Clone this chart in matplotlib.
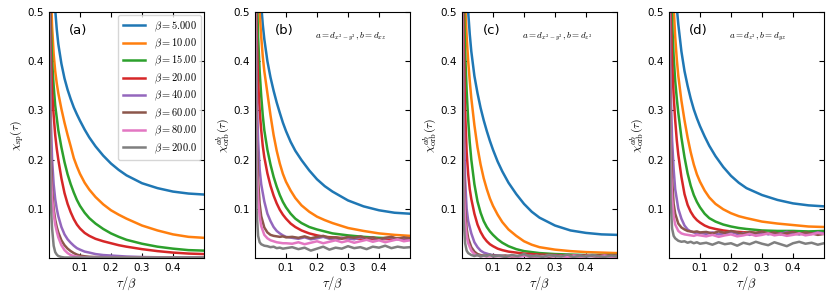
import numpy as np
from matplotlib import pyplot as plt

plt.rcParams['mathtext.fontset'] = 'cm'

# tau / beta grids (smooth curves use X, noisy QMC curves use XN)
X = [0, .005, .01, .015, .02, .025, .03, .04, .05, .06, .07, .08, .09, .1,
     .115, .13, .15, .175, .2, .225, .25, .3, .35, .4, .45, .5]
XN = [0, .005, .01, .015, .02, .03, .04, .05, .06, .07, .08, .09, .1,
      .12, .14, .16, .18, .2, .22, .24, .26, .28, .3, .32, .34, .36, .38, .4, .42, .44, .46, .48, .5]

BETA_LABELS = ['5.000', '10.00', '15.00', '20.00', '40.00', '60.00', '80.00', '200.0']
COLORS = ['tab:blue', 'tab:orange', 'tab:green', 'tab:red', 'tab:purple', 'tab:brown', 'tab:pink', 'tab:gray']

# (a) chi_sp
CHI_SP = [
    [0.95, 0.76, 0.64, 0.56, 0.505, 0.465, 0.435, 0.395, 0.365, 0.342, 0.323, 0.306, 0.292, 0.279,
     0.261, 0.245, 0.227, 0.208, 0.192, 0.179, 0.168, 0.152, 0.142, 0.135, 0.131, 0.129],
    [0.85, 0.56, 0.47, 0.415, 0.38, 0.355, 0.335, 0.303, 0.275, 0.25, 0.227, 0.203, 0.186, 0.171,
     0.153, 0.139, 0.124, 0.109, 0.097, 0.088, 0.08, 0.066, 0.056, 0.048, 0.043, 0.041],
    [0.8, 0.49, 0.40, 0.35, 0.31, 0.285, 0.26, 0.225, 0.195, 0.17, 0.15, 0.133, 0.118, 0.106,
     0.092, 0.081, 0.07, 0.059, 0.05, 0.043, 0.037, 0.029, 0.023, 0.019, 0.016, 0.015],
    [0.75, 0.43, 0.34, 0.29, 0.25, 0.222, 0.2, 0.162, 0.132, 0.11, 0.093, 0.079, 0.068, 0.06,
     0.051, 0.045, 0.039, 0.034, 0.03, 0.026, 0.023, 0.018, 0.014, 0.011, 0.009, 0.008],
    [0.7, 0.3, 0.2, 0.15, 0.12, 0.1, 0.085, 0.063, 0.048, 0.038, 0.031, 0.025, 0.02, 0.017,
     0.013, 0.011, 0.008, 0.006, 0.005, 0.004, 0.003, 0.002, 0.0015, 0.0012, 0.001, 0.001],
    [0.65, 0.22, 0.14, 0.1, 0.078, 0.063, 0.052, 0.036, 0.026, 0.019, 0.014, 0.01, 0.007, 0.005,
     0.0035, 0.0025, 0.002, 0.0015, 0.001, 0.001, 0.001, 0.001, 0.001, 0.001, 0.001, 0.001],
    [0.6, 0.18, 0.12, 0.09, 0.068, 0.054, 0.042, 0.026, 0.016, 0.01, 0.006, 0.004, 0.003, 0.002,
     0.0015, 0.001, 0.001, 0.001, 0.001, 0.001, 0.001, 0.001, 0.001, 0.001, 0.001, 0.001],
    [0.6, 0.12, 0.06, 0.025, 0.012, 0.007, 0.004, 0.002, 0.001, 0.001, 0.001, 0.001, 0.001, 0.001,
     0.001, 0.001, 0.001, 0.001, 0.001, 0.001, 0.001, 0.001, 0.001, 0.001, 0.001, 0.001],
]

# (b) a = d_{x2-y2}, b = d_{xz}
ORB_B = [
    [0.9, 0.76, 0.65, 0.57, 0.515, 0.475, 0.445, 0.4, 0.367, 0.34, 0.316, 0.295, 0.275, 0.258,
     0.236, 0.218, 0.199, 0.178, 0.16, 0.146, 0.135, 0.117, 0.105, 0.097, 0.092, 0.09],
    [0.85, 0.68, 0.57, 0.5, 0.45, 0.41, 0.38, 0.335, 0.29, 0.25, 0.218, 0.192, 0.171, 0.155,
     0.137, 0.122, 0.107, 0.094, 0.084, 0.077, 0.071, 0.061, 0.055, 0.05, 0.047, 0.045],
    [0.8, 0.56, 0.45, 0.38, 0.33, 0.29, 0.26, 0.22, 0.19, 0.165, 0.145, 0.128, 0.114, 0.103,
     0.09, 0.08, 0.071, 0.063, 0.058, 0.054, 0.05, 0.046, 0.043, 0.041, 0.04, 0.04],
    [0.75, 0.46, 0.36, 0.3, 0.26, 0.228, 0.205, 0.172, 0.147, 0.127, 0.111, 0.098, 0.088, 0.08,
     0.07, 0.063, 0.056, 0.05, 0.046, 0.043, 0.042, 0.04, 0.039, 0.038, 0.039, 0.038],
    [0.7, 0.35, 0.24, 0.18, 0.15, 0.115, 0.09, 0.075, 0.063, 0.055, 0.05, 0.046, 0.043,
     0.041, 0.039, 0.042, 0.038, 0.04, 0.043, 0.039, 0.037, 0.041, 0.04, 0.038, 0.042, 0.039, 0.041, 0.037, 0.04, 0.042, 0.038, 0.04, 0.039],
    [0.65, 0.25, 0.16, 0.11, 0.085, 0.062, 0.052, 0.047, 0.045, 0.044, 0.043, 0.044, 0.042,
     0.043, 0.041, 0.044, 0.04, 0.043, 0.045, 0.041, 0.042, 0.039, 0.043, 0.041, 0.044, 0.04, 0.042, 0.038, 0.041, 0.043, 0.039, 0.042, 0.04],
    [0.6, 0.2, 0.12, 0.085, 0.065, 0.047, 0.04, 0.036, 0.034, 0.032, 0.031, 0.03, 0.03,
     0.029, 0.032, 0.028, 0.031, 0.034, 0.03, 0.033, 0.036, 0.032, 0.035, 0.031, 0.034, 0.037, 0.033, 0.036, 0.032, 0.035, 0.038, 0.034, 0.036],
    [0.5, 0.1, 0.045, 0.032, 0.028, 0.025, 0.024, 0.022, 0.023, 0.02, 0.021, 0.019, 0.02,
     0.022, 0.018, 0.021, 0.015, 0.019, 0.023, 0.017, 0.021, 0.019, 0.024, 0.02, 0.022, 0.018, 0.023, 0.021, 0.025, 0.02, 0.023, 0.021, 0.022],
]

# (c) a = d_{x2-y2}, b = d_{z2}
ORB_C = [
    [0.9, 0.75, 0.63, 0.55, 0.5, 0.455, 0.42, 0.37, 0.335, 0.305, 0.28, 0.258, 0.238, 0.22,
     0.196, 0.176, 0.153, 0.13, 0.11, 0.094, 0.082, 0.066, 0.056, 0.051, 0.048, 0.047],
    [0.85, 0.65, 0.52, 0.45, 0.4, 0.36, 0.325, 0.27, 0.225, 0.19, 0.162, 0.14, 0.121, 0.106,
     0.088, 0.073, 0.058, 0.045, 0.034, 0.027, 0.022, 0.017, 0.014, 0.012, 0.011, 0.01],
    [0.8, 0.55, 0.42, 0.34, 0.28, 0.235, 0.2, 0.15, 0.115, 0.092, 0.075, 0.063, 0.054, 0.047,
     0.038, 0.031, 0.024, 0.018, 0.014, 0.012, 0.01, 0.008, 0.007, 0.006, 0.006, 0.006],
    [0.75, 0.45, 0.3, 0.215, 0.17, 0.14, 0.12, 0.09, 0.068, 0.053, 0.042, 0.034, 0.028, 0.024,
     0.019, 0.016, 0.013, 0.011, 0.009, 0.008, 0.007, 0.006, 0.005, 0.005, 0.005, 0.005],
    [0.7, 0.3, 0.16, 0.1, 0.075, 0.05, 0.032, 0.022, 0.015, 0.011, 0.009, 0.007, 0.006,
     0.005, 0.004, 0.005, 0.003, 0.004, 0.005, 0.003, 0.004, 0.003, 0.005, 0.004, 0.003, 0.004, 0.005, 0.003, 0.004, 0.003, 0.004, 0.003, 0.004],
    [0.65, 0.2, 0.1, 0.06, 0.04, 0.022, 0.013, 0.008, 0.006, 0.005, 0.005, 0.004, 0.005,
     0.004, 0.005, 0.003, 0.004, 0.006, 0.003, 0.004, 0.005, 0.003, 0.004, 0.005, 0.003, 0.004, 0.003, 0.005, 0.004, 0.003, 0.005, 0.004, 0.003],
    [0.6, 0.16, 0.075, 0.045, 0.03, 0.015, 0.008, 0.005, 0.004, 0.004, 0.003, 0.004, 0.003,
     0.004, 0.002, 0.004, 0.003, 0.005, 0.002, 0.004, 0.003, 0.005, 0.003, 0.004, 0.002, 0.005, 0.003, 0.004, 0.006, 0.003, 0.005, 0.003, 0.004],
    [0.5, 0.08, 0.03, 0.015, 0.01, 0.006, 0.004, 0.006, 0.003, 0.005, 0.004, 0.007, 0.003,
     0.005, 0.002, 0.006, 0.004, 0.008, 0.003, 0.005, 0.002, 0.006, 0.004, 0.003, 0.007, 0.002, 0.005, 0.003, 0.006, 0.004, 0.002, 0.005, 0.004],
]

# (d) a = d_{z2}, b = d_{yz}
ORB_D = [
    [0.9, 0.78, 0.68, 0.61, 0.555, 0.51, 0.475, 0.42, 0.38, 0.35, 0.324, 0.302, 0.284, 0.268,
     0.247, 0.228, 0.207, 0.185, 0.167, 0.153, 0.142, 0.128, 0.118, 0.111, 0.107, 0.105],
    [0.85, 0.7, 0.59, 0.51, 0.45, 0.405, 0.37, 0.32, 0.28, 0.245, 0.215, 0.19, 0.17, 0.155,
     0.137, 0.123, 0.11, 0.099, 0.091, 0.085, 0.081, 0.074, 0.07, 0.067, 0.064, 0.063],
    [0.8, 0.6, 0.48, 0.41, 0.36, 0.325, 0.295, 0.245, 0.205, 0.172, 0.147, 0.128, 0.114, 0.103,
     0.09, 0.081, 0.074, 0.068, 0.064, 0.061, 0.059, 0.056, 0.055, 0.055, 0.054, 0.055],
    [0.75, 0.5, 0.4, 0.33, 0.28, 0.24, 0.21, 0.165, 0.13, 0.108, 0.094, 0.084, 0.077, 0.072,
     0.066, 0.062, 0.059, 0.056, 0.054, 0.053, 0.052, 0.05, 0.05, 0.049, 0.049, 0.05],
    [0.7, 0.35, 0.24, 0.18, 0.14, 0.1, 0.08, 0.066, 0.058, 0.054, 0.052, 0.05, 0.051,
     0.049, 0.052, 0.048, 0.05, 0.053, 0.049, 0.051, 0.047, 0.05, 0.052, 0.048, 0.051, 0.049, 0.053, 0.05, 0.048, 0.051, 0.049, 0.052, 0.05],
    [0.65, 0.25, 0.16, 0.11, 0.09, 0.07, 0.062, 0.058, 0.055, 0.054, 0.053, 0.054, 0.052,
     0.053, 0.05, 0.054, 0.051, 0.055, 0.052, 0.049, 0.053, 0.051, 0.054, 0.05, 0.052, 0.048, 0.051, 0.053, 0.049, 0.052, 0.05, 0.047, 0.049],
    [0.6, 0.2, 0.12, 0.085, 0.068, 0.055, 0.05, 0.048, 0.047, 0.046, 0.045, 0.047, 0.046,
     0.044, 0.047, 0.043, 0.046, 0.048, 0.044, 0.046, 0.049, 0.045, 0.047, 0.05, 0.046, 0.048, 0.045, 0.047, 0.05, 0.046, 0.048, 0.051, 0.049],
    [0.5, 0.12, 0.06, 0.045, 0.04, 0.035, 0.033, 0.034, 0.031, 0.033, 0.03, 0.032, 0.029,
     0.031, 0.027, 0.032, 0.028, 0.03, 0.025, 0.031, 0.028, 0.033, 0.029, 0.026, 0.032, 0.028, 0.024, 0.03, 0.033, 0.029, 0.031, 0.027, 0.03],
]

PANELS = [CHI_SP, ORB_B, ORB_C, ORB_D]
TAGS = ['(a)', '(b)', '(c)', '(d)']
ORBITALS = [None, r'$a=d_{x^2-y^2},b=d_{xz}$', r'$a=d_{x^2-y^2},b=d_{z^2}$', r'$a=d_{z^2},b=d_{yz}$']
YLABELS = [r'$\chi_{\rm sp}(\tau)$', r'$\chi^{ab}_{\rm orb}(\tau)$', r'$\chi^{ab}_{\rm orb}(\tau)$', r'$\chi^{ab}_{\rm orb}(\tau)$']
LEFTS = [49, 255, 462, 669]

fig = plt.figure(figsize=(8.3, 2.99), dpi=100)
for i, data in enumerate(PANELS):
    ax = fig.add_axes([LEFTS[i] / 830, 41 / 299, 155 / 830, 246 / 299])
    for j, ys in enumerate(data):
        xs = X if len(ys) == len(X) else XN
        ax.plot(xs, ys, color=COLORS[j], lw=1.8, label=r'$\beta=%s$' % BETA_LABELS[j])
    ax.set_xlim(0, 0.5)
    ax.set_ylim(0, 0.5)
    ax.set_xticks([0.1, 0.2, 0.3, 0.4])
    ax.set_yticks([0.1, 0.2, 0.3, 0.4, 0.5])
    ax.tick_params(direction='in', top=True, right=True, labelsize=7.5, length=3.5)
    ax.set_xlabel(r'$\tau/\beta$', fontsize=9, labelpad=1)
    ax.set_ylabel(YLABELS[i], fontsize=8.5, labelpad=1)
    ax.text(0.19, 0.925, TAGS[i], transform=ax.transAxes, ha='center', va='center', fontsize=9.5)
    if ORBITALS[i]:
        ax.text(0.39, 0.9, ORBITALS[i], transform=ax.transAxes, ha='left', va='center', fontsize=6.5)
    if i == 0:
        ax.legend(loc='upper right', fontsize=7.5, handlelength=2.2, labelspacing=0.3,
                  borderpad=0.4, handletextpad=0.8, borderaxespad=0.3)

plt.savefig('out.png', dpi=100)
